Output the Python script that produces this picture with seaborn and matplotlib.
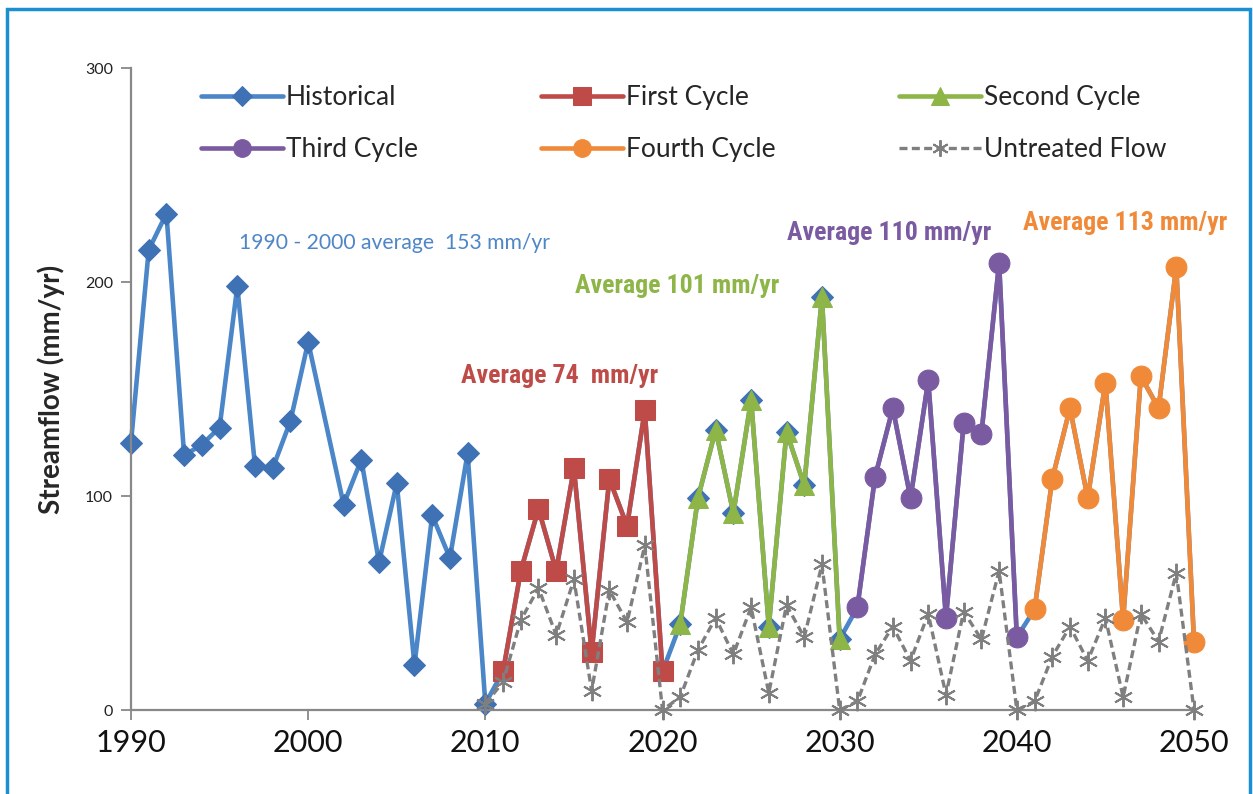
import numpy as np
import pandas as pd
import matplotlib
matplotlib.use("Agg")
import matplotlib.pyplot as plt
import seaborn as sns
from matplotlib.patches import Rectangle
from matplotlib import font_manager

# ---------------- data ----------------
hist_years = [1990, 1991, 1992, 1993, 1994, 1995, 1996, 1997, 1998, 1999, 2000,
              2002, 2003, 2004, 2005, 2006, 2007, 2008, 2009, 2010]
hist_values = [125, 215, 232, 119, 124, 132, 198, 114, 113, 135, 172,
               96, 117, 69, 106, 21, 91, 71, 120, 3]

first_years = list(range(2011, 2021))
first_values = [18, 65, 94, 65, 113, 27, 108, 86, 140, 18]

second_years = list(range(2021, 2031))
second_values = [40, 99, 131, 92, 145, 39, 130, 105, 193, 33]

third_years = list(range(2031, 2041))
third_values = [48, 109, 141, 99, 154, 43, 134, 129, 209, 34]

fourth_years = list(range(2041, 2051))
fourth_values = [47, 108, 141, 99, 153, 42, 156, 141, 207, 32]

untreated_years = list(range(2010, 2051))
untreated_values = [3, 13, 42, 57, 35, 61, 9, 56, 41, 77, 0,
                    6, 28, 43, 26, 48, 8, 49, 34, 68, 0,
                    4, 26, 39, 23, 45, 7, 46, 33, 65, 0,
                    4, 25, 39, 23, 43, 6, 45, 32, 64, 0]

x_ticks = [1990, 2000, 2010, 2020, 2030, 2040, 2050]
y_ticks = [0, 100, 200, 300]

# Historical line continues underneath the cycles
full_years = hist_years + first_years + second_years + third_years + fourth_years
full_values = hist_values + first_values + second_values + third_values + fourth_values
n_hist = len(hist_years)
n_cyc = len(first_years)
diamond_idx = list(range(n_hist)) + list(range(n_hist + n_cyc, n_hist + 2 * n_cyc))

# ---------------- fonts ----------------
installed = {f.name for f in font_manager.fontManager.ttflist}
narrow = None
for cand in ["Liberation Sans Narrow", "Arial Narrow", "Roboto Condensed",
             "Open Sans Condensed", "DejaVu Sans Condensed"]:
    if cand in installed:
        narrow = cand
        break
if narrow is None:
    narrow = "Liberation Sans"
narrow_is_real = narrow != "Liberation Sans"

# ---------------- style ----------------
sns.set_theme(style="white")
plt.rcParams["font.family"] = ["Lato", "DejaVu Sans"]

BLUE = "#4a86c8"
BLUE_M = "#3f72b5"
RED = "#be4b48"
GREEN = "#8db548"
PURPLE = "#7a5aa0"
ORANGE = "#f08a38"
GRAY = "#7f7f7f"

fig = plt.figure(figsize=(12.53, 7.94), dpi=100)
ax = fig.add_axes([131 / 1253, 1 - 710 / 794, (1194 - 131) / 1253, (710 - 68) / 794])

lw = 3.3
common = dict(ax=ax, lw=lw, clip_on=False)
sns.lineplot(x=full_years, y=full_values, color=BLUE, marker="D",
             markersize=11.5, markerfacecolor=BLUE_M, markeredgecolor=BLUE_M,
             markevery=diamond_idx,
             label="Historical", zorder=2, sort=False, **common)
sns.lineplot(x=first_years, y=first_values, color=RED, marker="s",
             markersize=15, markerfacecolor=RED, markeredgecolor=RED,
             label="First Cycle", zorder=3, **common)
sns.lineplot(x=second_years, y=second_values, color=GREEN, marker="^",
             markersize=15, markerfacecolor=GREEN, markeredgecolor=GREEN,
             label="Second Cycle", zorder=3, **common)
sns.lineplot(x=third_years, y=third_values, color=PURPLE, marker="o",
             markersize=15, markerfacecolor=PURPLE, markeredgecolor=PURPLE,
             label="Third Cycle", zorder=3, **common)
sns.lineplot(x=fourth_years, y=fourth_values, color=ORANGE, marker="o",
             markersize=15, markerfacecolor=ORANGE, markeredgecolor=ORANGE,
             label="Fourth Cycle", zorder=3, **common)
sns.lineplot(x=untreated_years, y=untreated_values, ax=ax, color=GRAY, lw=2.4,
             linestyle=(0, (2.4, 1.3)), marker=(6, 2, 0), markersize=14,
             markeredgecolor=GRAY, markeredgewidth=1.4, clip_on=False,
             label="Untreated Flow", zorder=4)

ax.set_xlim(1990, 2050)
ax.set_ylim(0, 300)
ax.set_xticks(x_ticks)
ax.set_yticks(y_ticks)
ax.tick_params(axis="x", labelsize=22, length=7, width=1.3, color="#888888",
               direction="out", bottom=True, pad=7, labelcolor="#111111")
ax.tick_params(axis="y", labelsize=11.5, length=7, width=1.3, color="#888888",
               direction="out", left=True, pad=6, labelcolor="#222222")
for side in ["top", "right"]:
    ax.spines[side].set_visible(False)
for side in ["left", "bottom"]:
    ax.spines[side].set_color("#888888")
    ax.spines[side].set_linewidth(1.6)
ax.set_xlabel("")
ax.set_ylabel("Streamflow (mm/yr)", fontsize=20, fontweight="bold", labelpad=14)
ax.grid(False)

# legend (row-major order)
handles, labels = ax.get_legend_handles_labels()
order = ["Historical", "Third Cycle", "First Cycle", "Fourth Cycle",
         "Second Cycle", "Untreated Flow"]
hmap = dict(zip(labels, handles))
leg = ax.legend([hmap[k] for k in order], order, ncol=3, frameon=False,
                loc="upper left", bbox_to_anchor=(177 / 1253, 1 - 61 / 794),
                bbox_transform=fig.transFigure,
                prop={"family": ["Lato", "DejaVu Sans"], "size": 19},
                handlelength=3.1, handletextpad=0.12, columnspacing=4.68,
                labelspacing=1.05, markerscale=0.85)

# annotations
ann_size = 18.6 if narrow_is_real else 15
ann_font = [narrow, "DejaVu Sans"]
ax.text(1996.1, 218, "1990 - 2000 average  153 mm/yr", color="#4f86c6",
        fontsize=15.2, ha="left", va="center", family=["Lato", "DejaVu Sans"])
ax.text(2014.2, 156, "Average 74  mm/yr", color=RED, fontsize=ann_size,
        fontweight="bold", ha="center", va="center", family=ann_font)
ax.text(2020.8, 198, "Average 101 mm/yr", color=GREEN, fontsize=ann_size,
        fontweight="bold", ha="center", va="center", family=ann_font)
ax.text(2032.8, 223, "Average 110 mm/yr", color=PURPLE, fontsize=ann_size,
        fontweight="bold", ha="center", va="center", family=ann_font)
ax.text(2046.1, 227.5, "Average 113 mm/yr", color=ORANGE, fontsize=ann_size,
        fontweight="bold", ha="center", va="center", family=ann_font)

# outer blue frame
fig.patches.append(Rectangle((7 / 1253, -0.05), (1250 - 7) / 1253, 1.05 - 9 / 794,
                             transform=fig.transFigure, fill=False,
                             edgecolor="#1b8fd2", linewidth=2.5, zorder=10))

fig.savefig("out.png", dpi=100)
